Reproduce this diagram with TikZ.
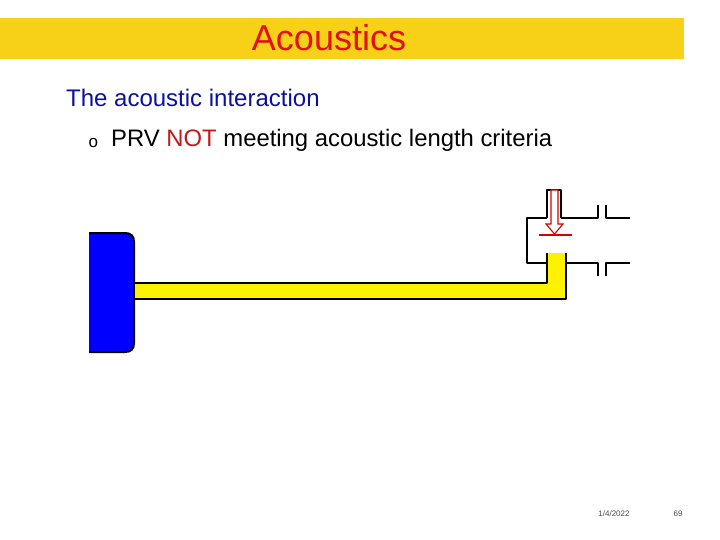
\documentclass[tikz,border=0pt]{standalone}
\usepackage{fontspec}
\setmainfont{Liberation Sans}
\definecolor{bannerc}{HTML}{F7D117}
\definecolor{titlec}{HTML}{E2100F}
\definecolor{headc}{HTML}{0A10A0}
\definecolor{notc}{HTML}{C41818}
\tikzset{
    x=1pt,
    y=-1pt,
    plain/.style = {
        inner sep=0pt,
        anchor=west
    },
    wall/.style = {
        line width=2pt,
        line join=round
    },
    valve/.style = {
        line width=1.1pt,
        color=red!85!black
    },
}
\begin{document}
\begin{tikzpicture}
                \useasboundingbox (0,0) rectangle (720,540);
                \path[fill=bannerc] (0,18) rectangle (684,59);

                \node[plain, anchor=center, text=titlec] (title) at (329,38) {\fontsize{36}{36}\selectfont Acoustics};
                \node[plain, text=headc] (head) at (66,98) {\fontsize{24}{24}\selectfont The acoustic interaction};
                \node[plain] (bullet) at (88.5,143) {\fontsize{17}{17}\selectfont o};
                \node[plain] (crit) at (111,140.5) {\fontsize{23.85}{24}\selectfont PRV \textcolor{notc}{NOT} meeting acoustic length criteria};
                \node[plain, anchor=center, text=black!70] (date) at (614,514) {\fontsize{8}{8}\selectfont 1/4/2022};
                \node[plain, anchor=center, text=black!70] (page) at (678,514) {\fontsize{8}{8}\selectfont 69};

                % tank
                \path[draw, wall, fill=blue] (89,233) -- (125,233) .. controls (131,233) and (134,236) .. (134,242)
                    -- (134,343) .. controls (134,349) and (131,352) .. (125,352) -- (89,352);

                % pipe
                \path[fill=yellow] (135,283) -- (547,283) -- (547,253) -- (566,253) -- (566,299) -- (135,299) -- cycle;
                \path[draw, wall] (135,283) -- (547,283) -- (547,253);
                \path[draw, wall] (135,299) -- (566,299) -- (566,253);

                % valve body
                \path[draw, wall] (547,218) -- (547,190) -- (561,190) -- (561,218);
                \path[draw, wall] (547,218) -- (527,218) -- (527,263) -- (547,263);

                % flanges
                \path[draw, wall] (598,205) -- (598,218) -- (561,218);
                \path[draw, wall] (606,205) -- (606,218) -- (630,218);
                \path[draw, wall] (598,276) -- (598,263) -- (566,263);
                \path[draw, wall] (606,276) -- (606,263) -- (630,263);

                % relief arrow
                \path[draw, valve, fill=white] (551,190) -- (558,190) -- (558,224) -- (563,224)
                    -- (554.5,234) -- (546,224) -- (551,224) -- cycle;
                \path[draw, valve, line width=1.3pt] (539,235) -- (572,235);
\end{tikzpicture}
\end{document}
